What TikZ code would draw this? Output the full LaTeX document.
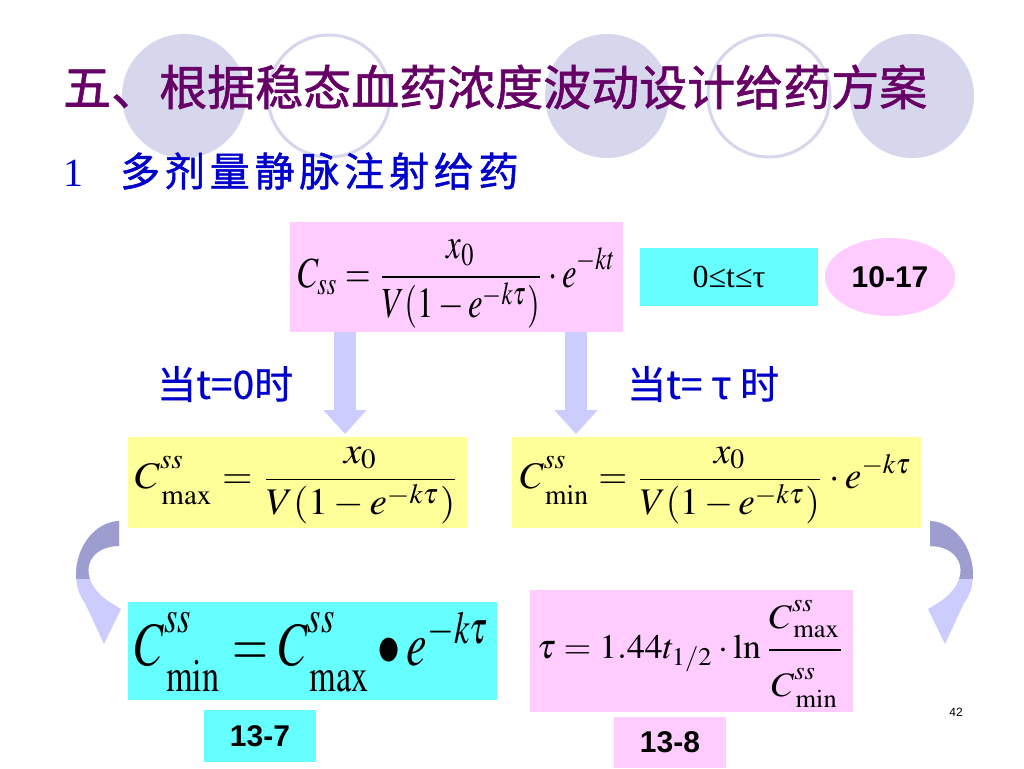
\documentclass[tikz,border=0pt]{standalone}
\usepackage{mathptmx}
\usepackage{fontspec}
\setmainfont{Liberation Serif}
\newfontfamily\cjk[FakeBold=1.2]{Noto Sans CJK SC}
\newfontfamily\cjkm[FakeBold=0.6]{Noto Sans CJK SC}
\newfontfamily\cjksp[LetterSpace=12,FakeBold=1.2]{Noto Sans CJK SC}
\newfontfamily\sansb{Liberation Sans}
\usepackage{graphicx}
\usetikzlibrary{arrows.meta,shapes.geometric}
\definecolor{ttl}{RGB}{102,0,102}
\definecolor{blu}{RGB}{0,0,204}
\definecolor{pk}{RGB}{255,204,255}
\definecolor{cy}{RGB}{102,255,255}
\definecolor{yl}{RGB}{255,255,153}
\definecolor{circ}{RGB}{214,214,236}
\definecolor{arr}{RGB}{204,204,255}
\definecolor{ardark}{RGB}{157,157,208}
\tikzset{
  box/.style={rectangle, draw=none, inner sep=0pt},
  barrow/.style={line width=22pt, draw=arr, -{Triangle[width=42pt,length=24pt,fill=arr]}},
  frm/.style={inner sep=0pt},
}
\newcommand{\sbst}{\rule{0pt}{6pt}}
\newcommand{\spst}{\rule[-2pt]{0pt}{2pt}}
\newcommand{\curvedpath}{(119,521) .. controls (95,522) and (77,546) .. (76,573) .. controls (76,586) and (79,595) .. (85,603) -- (104,644) -- (121,609) -- (108,601) .. controls (94,591) and (86,578) .. (89,565) .. controls (92,553) and (104,546) .. (119,546) -- cycle}
\begin{document}
\begin{tikzpicture}[x=1pt,y=-1pt]
\useasboundingbox (0,0) rectangle (1024,768);
\fill[white] (0,0) rectangle (1024,768);
% decorative circles
\fill[circ] (184,96) circle[radius=62pt];
\draw[circ,line width=3pt] (329,96) circle[radius=61pt];
\fill[circ] (607,96) circle[radius=62pt];
\draw[circ,line width=3pt] (769,96) circle[radius=61pt];
\fill[circ] (912,96) circle[radius=62pt];
% titles
\node[anchor=west, text=ttl, inner sep=0pt, font=\cjk\fontsize{48}{56}\selectfont] (title) at (63,87) {五、根据稳态血药浓度波动设计给药方案};
\node[anchor=west, text=blu, inner sep=0pt] (sub) at (63,171) {\fontsize{40}{48}\selectfont 1\hspace{37pt}{\cjksp 多剂量静脉注射给药}};
% top row
\node[box, fill=pk, minimum width=333pt, minimum height=110pt] (b1) at (456.5,277) {};
\node[frm] (f1) at (457,284) {\resizebox*{318pt}{88pt}{$\displaystyle C_{ss}=\frac{x_0}{V(1-e^{-k\tau})}\cdot e^{-kt}$}};
\node[box, fill=cy, minimum width=178pt, minimum height=58pt] (b2) at (729,277) {\fontsize{32}{38}\selectfont 0≤t≤τ};
\node[ellipse, fill=pk, inner sep=0pt, minimum width=130pt, minimum height=78pt] (b3) at (890,277) {\sansb\bfseries\fontsize{30}{36}\selectfont 10-17};
% labels
\node[anchor=west, text=blu, inner sep=0pt, font=\cjkm\fontsize{39}{45}\selectfont] (l1) at (157,384) {当t=0时};
\node[anchor=west, text=blu, inner sep=0pt, font=\cjkm\fontsize{39}{45}\selectfont] (l2) at (627,384) {当t= τ 时};
% yellow boxes
\node[box, fill=yl, minimum width=340pt, minimum height=91pt] (y1) at (298,482.5) {};
\node[frm] (fy1) at (297.5,485.5) {\resizebox*{325pt}{77pt}{$\displaystyle C^{ss\spst}_{\sbst\max}=\frac{x_0}{V(1-e^{-k\tau})}$}};
\node[box, fill=yl, minimum width=409pt, minimum height=91pt] (y2) at (716.5,482.5) {};
\node[frm] (fy2) at (716,485.5) {\resizebox*{392pt}{77pt}{$\displaystyle C^{ss\spst}_{\sbst\min}=\frac{x_0}{V(1-e^{-k\tau})}\cdot e^{-k\tau}$}};
% down arrows
\coordinate (a1s) at (345,332);
\coordinate (a1e) at (345,434);
\coordinate (a2s) at (576,332);
\coordinate (a2e) at (576,434);
\draw[barrow] (a1s) -- (a1e);
\draw[barrow] (a2s) -- (a2e);
% bottom row
\node[box, fill=cy, minimum width=369pt, minimum height=98pt] (c1) at (312.5,651) {};
\node[frm] (fc1) at (312.5,652) {\resizebox*{355pt}{80pt}{$C^{ss\spst}_{\sbst\min}={\Large C}^{ss\spst}_{\sbst\max}\bullet{\Large e}^{-k\tau}$}};
\node[box, fill=pk, minimum width=323pt, minimum height=122pt] (p2) at (691.5,651) {};
\node[frm] (fp2) at (691,653.5) {\resizebox*{308pt}{107pt}{$\displaystyle \tau=1.44t_{1/2}\cdot\ln\frac{C^{ss\rule[-1.5pt]{0pt}{1.5pt}}_{\rule{0pt}{4.5pt}\max}\rule[-5pt]{0pt}{5pt}}{\rule{0pt}{12pt}C^{ss\rule[-1.5pt]{0pt}{1.5pt}}_{\rule{0pt}{4.5pt}\min}}$}};
\node[box, fill=cy, minimum width=112pt, minimum height=52pt] (n1) at (260,736) {\sansb\bfseries\fontsize{30}{36}\selectfont 13-7};
\node[box, fill=pk, minimum width=112pt, minimum height=51pt] (n2) at (670,742.5) {\sansb\bfseries\fontsize{30}{36}\selectfont 13-8};
\node[inner sep=0pt] (pg) at (956,712) {\sansb\fontsize{12}{14}\selectfont 42};
% curved arrows
\fill[arr] \curvedpath;
\begin{scope}
\clip (0,500) rectangle (1024,578);
\fill[ardark] \curvedpath;
\end{scope}
\begin{scope}[xshift=1049pt, xscale=-1]
\fill[arr] \curvedpath;
\begin{scope}
\clip (0,500) rectangle (1024,578);
\fill[ardark] \curvedpath;
\end{scope}
\end{scope}
\end{tikzpicture}
\end{document}
